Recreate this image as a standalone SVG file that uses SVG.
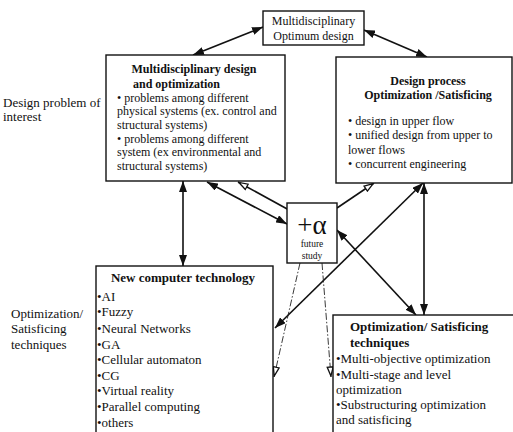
<svg xmlns="http://www.w3.org/2000/svg" width="513" height="432" viewBox="0 0 513 432">
<style>
text{font-family:"Liberation Serif","Times New Roman",serif;fill:#111}
.box{fill:#fff;stroke:#111;stroke-width:1.4}
.b{font-weight:bold}
.c{stroke:#111;stroke-width:1.6;fill:none}
.d{stroke:#222;stroke-width:0.9;fill:none;stroke-dasharray:7 2 1.5 2}
.t12{font-size:12px}
.t13{font-size:13px}
</style>
<defs>
<marker id="fh" viewBox="0 0 11 8" refX="11" refY="4" markerWidth="11" markerHeight="8" markerUnits="userSpaceOnUse" orient="auto-start-reverse"><path d="M0,0 L11,4 L0,8 z" fill="#111"/></marker>
<marker id="hh" viewBox="0 0 11 8" refX="11" refY="4" markerWidth="11" markerHeight="8" markerUnits="userSpaceOnUse" orient="auto-start-reverse"><path d="M1,1 L10,4 L1,7 z" fill="#fff" stroke="#111" stroke-width="1.3"/></marker>
</defs>

<g id="connectors">
<path class="c" d="M193,55 L263,27" marker-start="url(#fh)" marker-end="url(#fh)"/>
<path class="c" d="M364,30 L427,57" marker-start="url(#fh)" marker-end="url(#fh)"/>
<path class="c" d="M183,181 L183,266" marker-start="url(#fh)" marker-end="url(#fh)"/>
<path class="c" d="M207,182 L287,224" marker-start="url(#fh)" marker-end="url(#fh)"/>
<path class="c" d="M289,210 L238,182" marker-end="url(#hh)"/>
<path class="c" d="M337,208 L374,183" marker-end="url(#hh)"/>
<path class="c" d="M423,183 L275,328" marker-start="url(#fh)" marker-end="url(#fh)"/>
<path class="c" d="M424,183 L424,315" marker-start="url(#fh)" marker-end="url(#fh)"/>
<path class="c" d="M337,230 L416,315" marker-start="url(#fh)" marker-end="url(#fh)"/>
<path class="d" d="M300,263 L274,377" marker-end="url(#hh)"/>
<path class="d" d="M322,263 L331,377" marker-end="url(#hh)"/>
</g>

<g id="label-design-problem">
<text class="t13" x="3" y="107">Design problem of</text>
<text class="t13" x="3" y="121">interest</text>
</g>
<g id="label-techniques">
<text class="t13" x="11" y="318">Optimization/</text>
<text class="t13" x="11" y="333">Satisficing</text>
<text class="t13" x="11" y="349">techniques</text>
</g>

<g id="node-optimum">
<rect class="box" x="263" y="11" width="101" height="34"/>
<text class="t12" x="313.5" y="25" text-anchor="middle">Multidisciplinary</text>
<text class="t12" x="313.5" y="40" text-anchor="middle">Optimum design</text>
</g>

<g id="node-mdo">
<rect class="box" x="106" y="55" width="179" height="126"/>
<text class="t12 b" x="194" y="73" text-anchor="middle">Multidisciplinary design</text>
<text class="t12 b" x="133" y="88">and optimization</text>
<text class="t12" x="117" y="102">• problems among different</text>
<text class="t12" x="117" y="115">physical systems (ex. control and</text>
<text class="t12" x="117" y="129">structural systems)</text>
<text class="t12" x="117" y="143">• problems among different</text>
<text class="t12" x="117" y="156">system (ex environmental and</text>
<text class="t12" x="117" y="170">structural systems)</text>
</g>

<g id="node-process">
<rect class="box" x="336" y="57" width="176" height="126"/>
<text class="t12 b" x="428" y="85" text-anchor="middle">Design process</text>
<text class="t12 b" x="428" y="99" text-anchor="middle">Optimization /Satisficing</text>
<text class="t12" x="348" y="125">• design in upper flow</text>
<text class="t12" x="348" y="139">• unified design from upper to</text>
<text class="t12" x="348" y="154">lower flows</text>
<text class="t12" x="348" y="168">• concurrent engineering</text>
</g>

<g id="node-future">
<rect class="box" x="287" y="203" width="50" height="60"/>
<text x="312" y="234" text-anchor="middle" font-size="27">+α</text>
<text x="312" y="247" text-anchor="middle" font-size="9.5">future</text>
<text x="312" y="259" text-anchor="middle" font-size="9.5">study</text>
</g>

<g id="node-computer">
<rect class="box" x="96" y="266" width="177" height="170"/>
<text class="t13 b" x="183" y="282" text-anchor="middle">New computer technology</text>
<text class="t13" x="97" y="301">•AI</text>
<text class="t13" x="97" y="316">•Fuzzy</text>
<text class="t13" x="97" y="333">•Neural Networks</text>
<text class="t13" x="97" y="349">•GA</text>
<text class="t13" x="97" y="364">•Cellular automaton</text>
<text class="t13" x="97" y="380">•CG</text>
<text class="t13" x="97" y="395">•Virtual reality</text>
<text class="t13" x="97" y="411">•Parallel computing</text>
<text class="t13" x="97" y="427">•others</text>
</g>

<g id="node-techniques">
<rect class="box" x="333" y="315" width="182" height="121"/>
<text class="t13 b" x="350" y="331">Optimization/ Satisficing</text>
<text class="t13 b" x="350" y="347">techniques</text>
<text class="t13" x="336" y="363">•Multi-objective optimization</text>
<text class="t13" x="336" y="379">•Multi-stage and level</text>
<text class="t13" x="336" y="394">optimization</text>
<text class="t13" x="336" y="409">•Substructuring optimization</text>
<text class="t13" x="336" y="424">and satisficing</text>
</g>
</svg>
